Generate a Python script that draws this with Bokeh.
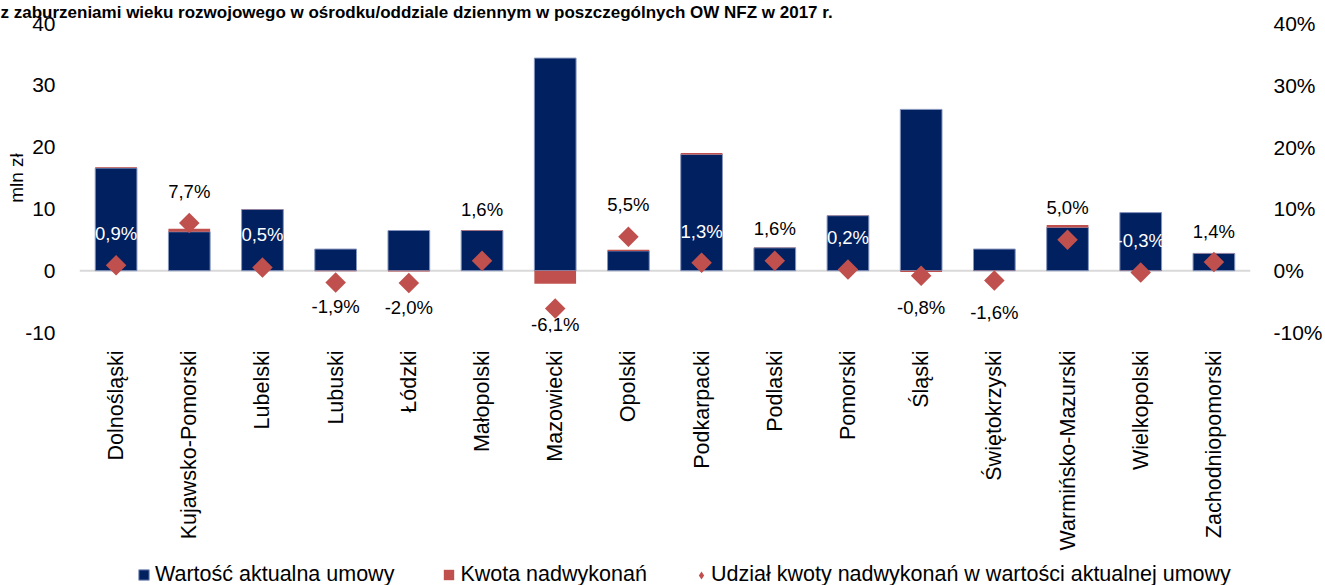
import math
from bokeh.plotting import figure
from bokeh.layouts import column
from bokeh.models import (FactorRange, Range1d, LinearAxis, FixedTicker, PrintfTickFormatter,
                          Span, Legend, LegendItem, Title, LabelSet, ColumnDataSource)
from bokeh.core.properties import value
from bokeh.embed import file_html
from bokeh.resources import INLINE

# ---------------- data ----------------
title_text = ("z zaburzeniami wieku rozwojowego w ośrodku/oddziale dziennym "
              "w poszczególnych OW NFZ w 2017 r.")
regions = ["Dolnośląski", "Kujawsko-Pomorski", "Lubelski", "Lubuski", "Łódzki",
           "Małopolski", "Mazowiecki", "Opolski", "Podkarpacki", "Podlaski",
           "Pomorski", "Śląski", "Świętokrzyski", "Warmińsko-Mazurski",
           "Wielkopolski", "Zachodniopomorski"]
contract_value = [16.6, 6.3, 9.9, 3.5, 6.5, 6.5, 34.4, 3.2, 18.8, 3.7,
                  8.9, 26.1, 3.5, 7.0, 9.4, 2.8]          # mln zł
overrun = [0.15, 0.5, 0.05, -0.07, -0.13, 0.10, -2.1, 0.18, 0.24, 0.06,
           0.02, -0.21, -0.06, 0.4, -0.03, 0.04]          # mln zł
overrun_share = [0.9, 7.7, 0.5, -1.9, -2.0, 1.6, -6.1, 5.5, 1.3, 1.6,
                 0.2, -0.8, -1.6, 5.0, -0.3, 1.4]         # %
left_ticks = [-10, 0, 10, 20, 30, 40]
right_ticks = [-10, 0, 10, 20, 30, 40]
y_axis_title = "mln zł"
series_names = ["Wartość aktualna umowy", "Kwota nadwykonań",
                "Udział kwoty nadwykonań w wartości aktualnej umowy"]

# ---------------- styles ----------------
FONT = "Liberation Sans"
NAVY = "#002060"
RED = "#C0504D"
BAR_EDGE = "#8796bd"
label_offsets = [-32, -32, -33, 24, 24, -51, 16, -32, -31, -32, -32, 32, 32, -32, -32, -31]
label_on_bar = [True, False, True, False, False, False, False, False, True, False,
                True, False, False, False, True, False]

red_bottom = [v if o > 0 else 0 for v, o in zip(contract_value, overrun)]
red_top = [v + o if o > 0 else o for v, o in zip(contract_value, overrun)]
labels = [f"{s:.1f}".replace(".", ",") + "%" for s in overrun_share]
label_colors = ["white" if b else "black" for b in label_on_bar]
label_yoff = [-o for o in label_offsets]   # LabelSet offsets point upward

src = ColumnDataSource(dict(region=regions, val=contract_value, rb=red_bottom, rt=red_top,
                            pct=overrun_share, lab=labels, col=label_colors, off=label_yoff))

W = 1325
H_MAIN, H_LEG = 555, 30
p = figure(width=W, height=H_MAIN, x_range=FactorRange(factors=regions), y_range=Range1d(-10, 40),
           output_backend="svg", toolbar_location=None,
           min_border_left=79, min_border_right=69, min_border_top=23, min_border_bottom=223)
p.title = Title(text=title_text, align="left", offset=-79, standoff=0,
                vertical_align="top", text_font=FONT, text_font_size="17px",
                text_font_style="bold", text_color="black")
p.extra_y_ranges = {"pct": Range1d(-10, 40)}
p.outline_line_color = None
p.xgrid.grid_line_color = None
p.ygrid.grid_line_color = None

zero = Span(location=0, dimension="width", line_color="#d9d9d9", line_width=2, level="underlay")
p.add_layout(zero)

bar_kw = dict(x="region", width=0.57, source=src)
p.vbar(top="val", bottom=0, fill_color=NAVY, line_color=BAR_EDGE, line_width=1, **bar_kw)
p.vbar(bottom="rb", top="rt", fill_color=RED, line_color=None, **bar_kw)
p.scatter(x="region", y="pct", marker="square", angle=math.pi / 4, size=14.5,
          fill_color=RED, line_color=None, y_range_name="pct", source=src)
lset = LabelSet(x="region", y="pct", text="lab", y_offset="off", text_color="col",
                text_align="center", text_baseline="middle", text_font=value(FONT),
                text_font_size="18.5px", y_range_name="pct", source=src)
p.add_layout(lset)

# axes
xa = p.xaxis[0]
xa.axis_line_color = None
xa.major_tick_line_color = None
xa.minor_tick_line_color = None
xa.major_label_orientation = math.pi / 2
xa.major_label_standoff = 12
xa.major_label_text_font = FONT
xa.major_label_text_font_size = "21.5px"
xa.major_label_text_color = "black"

ya = p.yaxis[0]
ya.ticker = FixedTicker(ticks=left_ticks)
ya.formatter = PrintfTickFormatter(format="%d")
ya.axis_line_color = None
ya.major_tick_line_color = None
ya.minor_tick_line_color = None
ya.major_label_standoff = 18
ya.major_label_text_font = FONT
ya.major_label_text_font_size = "21px"
ya.major_label_text_color = "black"
ya.axis_label = y_axis_title
ya.axis_label_standoff = -5
ya.axis_label_text_font = FONT
ya.axis_label_text_font_size = "19px"
ya.axis_label_text_font_style = "normal"
ya.axis_label_text_color = "black"

ra = LinearAxis(y_range_name="pct", ticker=FixedTicker(ticks=right_ticks),
                formatter=PrintfTickFormatter(format="%d%%"))
ra.axis_line_color = None
ra.major_tick_line_color = None
ra.minor_tick_line_color = None
ra.major_label_standoff = 17
ra.major_label_text_font = FONT
ra.major_label_text_font_size = "21px"
ra.major_label_text_color = "black"
p.add_layout(ra, "right")

# ---------------- legend strip (same data, drawn out of view) ----------------
leg = figure(width=W, height=H_LEG, x_range=p.x_range, y_range=Range1d(1000, 1001),
             output_backend="svg", toolbar_location=None,
             x_axis_location=None, y_axis_location=None,
             min_border_left=0, min_border_right=0, min_border_top=0, min_border_bottom=0)
leg.outline_line_color = None
leg.xgrid.grid_line_color = None
leg.ygrid.grid_line_color = None
d_val = leg.vbar(top="val", bottom=0, fill_color=NAVY, line_color=BAR_EDGE, line_width=1, **bar_kw)
d_over = leg.vbar(bottom="rb", top="rt", fill_color=RED, line_color=None, **bar_kw)
d_pct = leg.scatter(x="region", y="pct", marker="diamond", size=14.5,
                    fill_color=RED, line_color=None, source=src)

leg_style = dict(orientation="horizontal", padding=0, margin=0, border_line_color=None,
                 background_fill_alpha=0, label_text_font=FONT, label_text_font_size="21.5px",
                 label_text_color="black")
legend_a = Legend(items=[LegendItem(label=series_names[0], renderers=[d_val]),
                         LegendItem(label=series_names[1], renderers=[d_over])],
                  location=(58, -2), glyph_width=13, glyph_height=13, label_standoff=5,
                  spacing=48, **leg_style)
legend_b = Legend(items=[LegendItem(label=series_names[2], renderers=[d_pct])],
                  location=(612, -2), glyph_width=20, glyph_height=20, label_standoff=0,
                  **leg_style)
leg.add_layout(legend_a)
leg.add_layout(legend_b)

layout = column(p, leg, spacing=0)
open("out.html", "w").write(file_html(layout, INLINE))
